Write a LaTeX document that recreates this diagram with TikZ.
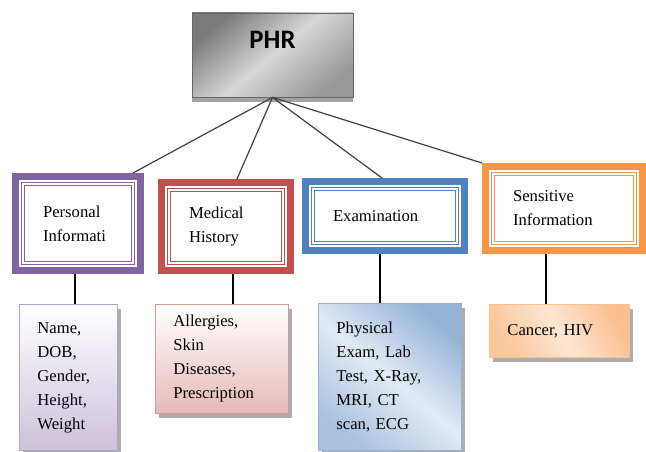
\documentclass[tikz,border=0pt]{standalone}
\usepackage{fontspec}
\setmainfont{Liberation Serif}
\newfontfamily\phrfont{Carlito}
\usetikzlibrary{positioning, shadows, calc}

\definecolor{persframe}{HTML}{8064A2}
\definecolor{medframe}{HTML}{C0504D}
\definecolor{examframe}{HTML}{4F81BD}
\definecolor{sensframe}{HTML}{F79646}
\definecolor{persfill}{HTML}{CCC1DA}
\definecolor{persline}{HTML}{B3A2C7}
\definecolor{medfill}{HTML}{E6B9B8}
\definecolor{medline}{HTML}{D99694}
\definecolor{examfill}{HTML}{95B3D7}
\definecolor{examlight}{HTML}{E2EAF4}
\definecolor{sensfill}{HTML}{FAC090}
\definecolor{senslight}{HTML}{FDE6D3}

\tikzset{
  catframe/.style={draw=#1, line width=5.25pt, fill=white, align=left,
    inner xsep=20.6pt, inner ysep=2pt, font=\fontsize{12.5}{18}\selectfont},
  dframe/.style={draw=#1, double=white, double distance=1.1pt, line width=0.8pt},
  detail/.style={draw=#1, line width=0.6pt, anchor=north west, align=left,
    inner xsep=13.5pt, inner ysep=2pt, font=\fontsize{12.5}{18}\selectfont,
    drop shadow={shadow xshift=2.5pt, shadow yshift=-3.5pt, fill=black!40, opacity=0.8}},
  topline/.style={draw=black!75, line width=0.9pt},
  vline/.style={draw=black, line width=0.9pt}
}

\begin{document}
\begin{tikzpicture}[x=0.75pt, y=-0.75pt]
\useasboundingbox (0,0) rectangle (646,452);

% root
\node (phr) [draw=black!60, line width=0.6pt, minimum width=120.75pt, minimum height=63pt,
  top color=black!52, bottom color=black!40, middle color=black!16, shading angle=40,
  text depth=22pt, font=\phrfont\bfseries\fontsize{20}{22}\selectfont,
  drop shadow={shadow xshift=0pt, shadow yshift=-4pt, fill=black!45, opacity=0.8}]
  at (272.5,55) {PHR};

% categories
\node (pers) [catframe=persframe, minimum width=93.75pt, minimum height=70.5pt, text width=52.5pt]
  at (78,223.5) {Personal\\Informati};
\node (med) [catframe=medframe, minimum width=96.75pt, minimum height=66pt, text width=55.5pt]
  at (226,226.5) {Medical\\History};
\node (exam) [catframe=examframe, minimum width=119.25pt, minimum height=51.75pt, text width=78pt]
  at (385,216) {Examination};
\node (sens) [catframe=sensframe, minimum width=117.75pt, minimum height=63pt, text width=76.5pt]
  at (564,208.5) {Sensitive\\Information};

% inner double frames
\draw[dframe=persframe] ([shift={(8.25pt,-8.25pt)}]pers.north west) rectangle ([shift={(-8.25pt,8.25pt)}]pers.south east);
\draw[dframe=medframe] ([shift={(8.25pt,-8.25pt)}]med.north west) rectangle ([shift={(-8.25pt,8.25pt)}]med.south east);
\draw[dframe=examframe] ([shift={(8.25pt,-8.25pt)}]exam.north west) rectangle ([shift={(-8.25pt,8.25pt)}]exam.south east);
\draw[dframe=sensframe] ([shift={(8.25pt,-8.25pt)}]sens.north west) rectangle ([shift={(-8.25pt,8.25pt)}]sens.south east);

% details
\node (pdet) [detail=persline, top color=white, bottom color=persfill,
  minimum width=73.5pt, minimum height=109.5pt, text width=46.5pt]
  at (19,304) {Name,\\DOB,\\Gender,\\Height,\\Weight};
\node (mdet) [detail=medline, top color=white, bottom color=medfill,
  minimum width=99.75pt, minimum height=81.75pt, text width=72.75pt]
  at (155,304) {Allergies,\\Skin\\Diseases,\\Prescription};
\node (edet) [detail=examfill, top color=examfill, bottom color=examfill!80, middle color=examlight,
  shading angle=-40, minimum width=107.25pt, minimum height=110.25pt, text width=80.25pt]
  at (318,303) {Physical\\Exam, Lab\\Test, X-Ray,\\MRI, CT\\scan, ECG};
\node (sdet) [detail=sensfill, top color=sensfill, bottom color=sensfill!90, middle color=senslight,
  shading angle=-60, minimum width=105pt, minimum height=39.75pt, text width=78pt]
  at (489,304) {Cancer, HIV};

% root to categories
\draw[topline] (phr.south) -- ([xshift=41.25pt]pers.north);
\draw[topline] (phr.south) -- ([xshift=8.25pt]med.north);
\draw[topline] (phr.south) -- ([xshift=-2.25pt]exam.north);
\draw[topline] (phr.south) -- (sens.north west);

% categories to details
\draw[vline] ([xshift=-2.25pt]pers.south) -- ([xshift=-2.25pt]pers.south |- pdet.north);
\draw[vline] ([xshift=5.25pt]med.south) -- ([xshift=5.25pt]med.south |- mdet.north);
\draw[vline] ([xshift=-3.75pt]exam.south) -- ([xshift=-3.75pt]exam.south |- edet.north);
\draw[vline] ([xshift=-13.5pt]sens.south) -- ([xshift=-13.5pt]sens.south |- sdet.north);
\end{tikzpicture}
\end{document}
